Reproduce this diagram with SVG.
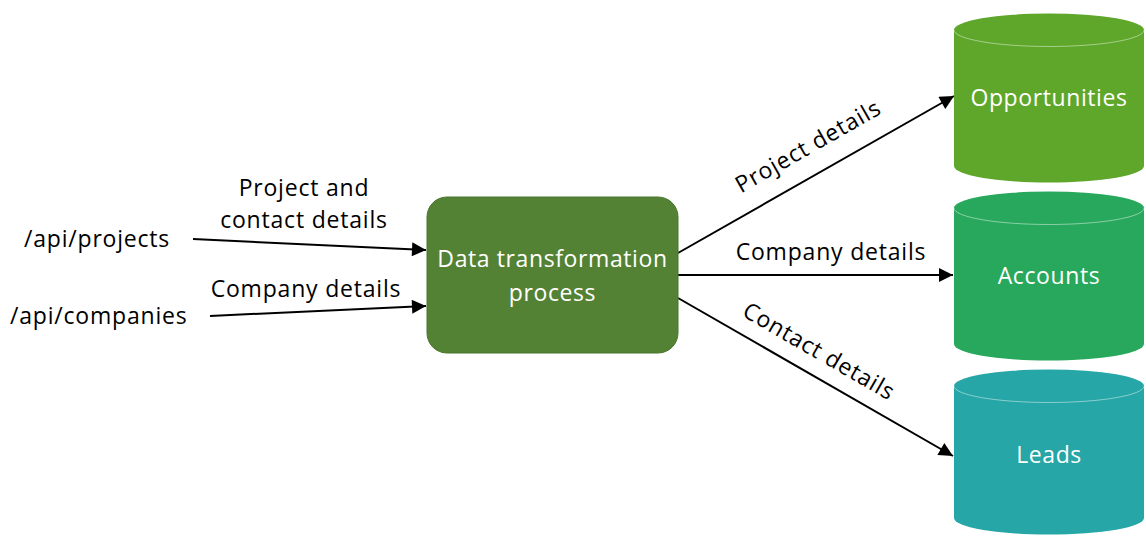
<svg xmlns="http://www.w3.org/2000/svg" width="1146" height="536" viewBox="0 0 1146 536">
  <defs>
    <marker id="arrow" viewBox="0 0 10 10" refX="10" refY="5" markerWidth="8.5" markerHeight="7" markerUnits="strokeWidth" orient="auto">
      <path d="M0,0 L10,5 L0,10 z" fill="#000"/>
    </marker>
  </defs>
  <style>
    .lbl { font-family: "Open Sans", Lato, sans-serif; font-size: 23px; letter-spacing: 0.8px; fill: #000; }
    .nodeText { font-family: "Open Sans", Lato, sans-serif; font-size: 23px; letter-spacing: 0.6px; fill: #fff; text-anchor: middle; }
    .edge { stroke: #000; stroke-width: 2; fill: none; marker-end: url(#arrow); }
    .rim { fill: none; stroke: #ffffff; stroke-opacity: 0.45; stroke-width: 1; }
  </style>
  <rect width="1146" height="536" fill="#fff"/>

  <!-- connectors -->
  <g id="connectors">
    <line class="edge" x1="193" y1="239" x2="426" y2="250"/>
    <line class="edge" x1="210" y1="316" x2="426" y2="306"/>
    <line class="edge" x1="678" y1="253" x2="954" y2="96"/>
    <line class="edge" x1="678" y1="275" x2="953" y2="275"/>
    <line class="edge" x1="678" y1="298" x2="953" y2="456"/>
  </g>

  <!-- connector labels -->
  <g id="labels">
    <text class="lbl" x="24" y="247">/api/projects</text>
    <text class="lbl" x="10" y="324">/api/companies</text>
    <text class="lbl" x="304" y="196" text-anchor="middle">Project and</text>
    <text class="lbl" x="304" y="228" text-anchor="middle">contact details</text>
    <text class="lbl" x="306" y="297" text-anchor="middle">Company details</text>
    <text class="lbl" x="831" y="260" text-anchor="middle">Company details</text>
    <text class="lbl" x="0" y="0" text-anchor="middle" transform="translate(812,153) rotate(-29.6)">Project details</text>
    <text class="lbl" x="0" y="0" text-anchor="middle" transform="translate(815,358) rotate(30)">Contact details</text>
  </g>

  <!-- process node -->
  <g id="process">
    <rect x="427" y="197" width="251" height="156" rx="20" ry="20" fill="#548235" stroke="#4a752e" stroke-width="1"/>
    <text class="nodeText" x="552.5" y="267">Data transformation</text>
    <text class="nodeText" x="552.5" y="301">process</text>
  </g>

  <!-- data stores -->
  <g id="opportunities">
    <path d="M954,30 L954,166 A95,16.5 0 0 0 1144,166 L1144,30 A95,16.5 0 0 0 954,30 z" fill="#5ea72a"/>
    <path class="rim" d="M954,30 A95,16.5 0 0 0 1144,30"/>
    <text class="nodeText" x="1049" y="106">Opportunities</text>
  </g>
  <g id="accounts">
    <path d="M954,208 L954,344 A95,16.5 0 0 0 1144,344 L1144,208 A95,16.5 0 0 0 954,208 z" fill="#27a85c"/>
    <path class="rim" d="M954,208 A95,16.5 0 0 0 1144,208"/>
    <text class="nodeText" x="1049" y="284">Accounts</text>
  </g>
  <g id="leads">
    <path d="M954,386 L954,518 A95,16.5 0 0 0 1144,518 L1144,386 A95,16.5 0 0 0 954,386 z" fill="#26a6a6"/>
    <path class="rim" d="M954,386 A95,16.5 0 0 0 1144,386"/>
    <text class="nodeText" x="1049" y="463">Leads</text>
  </g>
</svg>
